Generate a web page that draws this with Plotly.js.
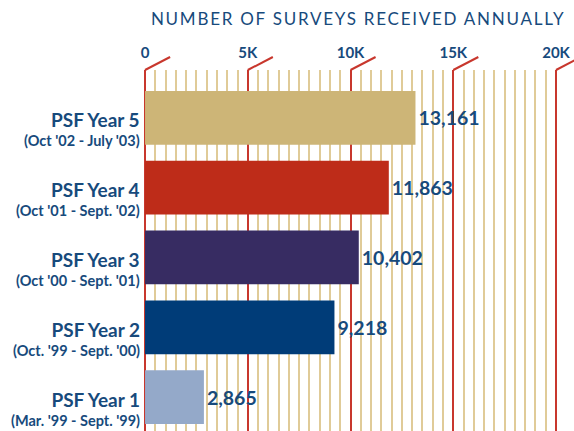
<!DOCTYPE html>
<html>
<head>
<meta charset="utf-8">
<script src="https://cdn.plot.ly/plotly-3.0.1.min.js"></script>
<style>
  html, body { margin: 0; padding: 0; background: #fff; }
  #chart { width: 574px; height: 431px; }
  .gtitle { letter-spacing: 1.75px; }
</style>
</head>
<body>
<div id="chart"></div>
<script>
// ---- data ----
const categories = ['PSF Year 5', 'PSF Year 4', 'PSF Year 3', 'PSF Year 2', 'PSF Year 1'];
const periods = ["(Oct '02 - July '03)", "(Oct '01 - Sept. '02)", "(Oct '00 - Sept. '01)", "(Oct. '99 - Sept. '00)", "(Mar. '99 - Sept. '99)"];
const surveys = [13161, 11863, 10402, 9218, 2865];
const barColors = ['#CDB577', '#BE2C19', '#372C62', '#003C78', '#94A9C9'];
const tickValues = [0, 5000, 10000, 15000, 20000];
const tickLabels = ['0', '5K', '10K', '15K', '20K'];
const chartTitle = 'NUMBER OF SURVEYS RECEIVED ANNUALLY';

// ---- styling ----
const navy = '#174A7C';
const red = '#C8372D';
const tan = '#E0CB98';
const font = 'Lato, "Open Sans", sans-serif';

const minorVals = [];
for (let v = 500; v < tickValues[tickValues.length - 1]; v += 500) {
  if (v % 5000 !== 0) minorVals.push(v);
}

const trace = {
  type: 'bar',
  orientation: 'h',
  y: categories,
  x: surveys,
  width: 0.77,
  marker: { color: barColors, line: { width: 0 } },
  texttemplate: '%{x:,}',
  textposition: 'outside',
  cliponaxis: false,
  textfont: { family: font, size: 19.5, color: navy, weight: 'bold' },
  hoverinfo: 'skip'
};

const annotations = categories.map((c, i) => ({
  xref: 'paper', yref: 'y', x: 0, y: c,
  xanchor: 'right', yanchor: 'middle', align: 'right',
  xshift: -3, yshift: -11, showarrow: false, borderpad: 0,
  font: { family: font, size: 14.5, color: navy, weight: 'bold' },
  text: '<span style="font-size:19px">' + c + '</span><br>' + periods[i]
}));

const shapes = tickValues.map(v => ({
  type: 'line', xref: 'x', yref: 'paper',
  x0: v, x1: v + 1220, y0: 1, y1: 1.036,
  line: { color: red, width: 2 }
}));

const layout = {
  width: 574, height: 431,
  margin: { l: 144, r: 0, t: 70, b: 0 },
  paper_bgcolor: '#fff', plot_bgcolor: '#fff',
  showlegend: false,
  title: {
    text: chartTitle,
    x: 0.624, xanchor: 'center', y: 0.956, yanchor: 'middle',
    font: { family: font, size: 17, color: navy }
  },
  xaxis: {
    side: 'top',
    range: [-50, 20875],
    tickmode: 'array',
    tickvals: tickValues, ticktext: tickLabels,
    showgrid: true, gridcolor: red, gridwidth: 2,
    zeroline: false, showline: false, ticks: '',
    ticklabelstandoff: 8,
    tickfont: { family: font, size: 15, color: navy, weight: 'bold' },
    minor: { tickmode: 'array', tickvals: minorVals, showgrid: true, gridcolor: tan, gridwidth: 2, ticks: '' },
    fixedrange: true
  },
  yaxis: {
    type: 'category',
    range: [4.486, -0.686],
    showticklabels: false, showgrid: false, zeroline: false, showline: false, ticks: '',
    fixedrange: true
  },
  annotations: annotations,
  shapes: shapes
};

Plotly.newPlot('chart', [trace], layout, { displayModeBar: false, staticPlot: true });
</script>
</body>
</html>
